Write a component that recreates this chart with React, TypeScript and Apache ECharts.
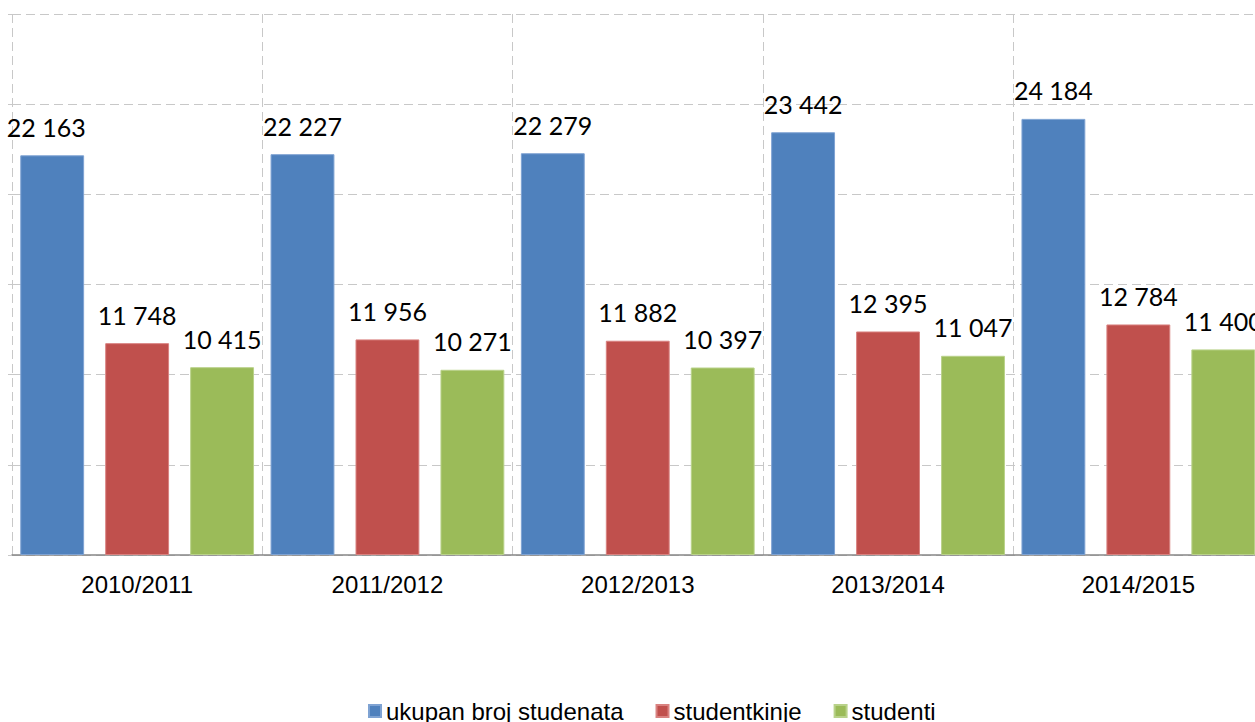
import React, { useEffect, useRef } from "react";
import * as echarts from "echarts";

const categories = ["2010/2011", "2011/2012", "2012/2013", "2013/2014", "2014/2015"];
const seriesNames = ["ukupan broj studenata", "studentkinje", "studenti"];
const ukupno = [22163, 22227, 22279, 23442, 24184];
const studentkinje = [11748, 11956, 11882, 12395, 12784];
const studenti = [10415, 10271, 10397, 11047, 11400];
const colors = ["#4F81BD", "#C0504D", "#9BBB59"];
const borders = ["#7FA3D3", "#D98280", "#B9D28A"];

const fmt = (v: number) => {
  const s = String(Math.round(v));
  return s.replace(/\B(?=(\d{3})+(?!\d))/g, " ");
};

export default function App() {
  const ref = useRef<HTMLDivElement>(null);
  useEffect(() => {
    if (!ref.current) return;
    const chart = echarts.init(ref.current, null, { renderer: "svg" });
    const data = [ukupno, studentkinje, studenti];
    chart.setOption({
      animation: false,
      backgroundColor: "#ffffff",
      grid: { left: 12, top: 14, right: 16.5, bottom: 167, containLabel: false },
      legend: {
        left: 363,
        top: 694,
        itemWidth: 12,
        itemHeight: 12,
        itemGap: 32,
        icon: "rect",
        textStyle: { fontFamily: "Liberation Sans", fontSize: 24, color: "#000" },
        data: seriesNames,
      },
      xAxis: {
        type: "category",
        data: categories,
        axisLine: { show: true, lineStyle: { color: "#868686", width: 1.5 } },
        axisTick: { show: false },
        axisLabel: {
          fontFamily: "Liberation Sans",
          fontSize: 24,
          color: "#000",
          margin: 17,
        },
        splitLine: {
          show: true,
          lineStyle: { color: "#c8c8c8", type: [9, 5], width: 1 },
        },
      },
      yAxis: {
        type: "value",
        min: 0,
        max: 30000,
        interval: 5000,
        axisLabel: { show: false },
        axisLine: { show: false },
        axisTick: { show: true, length: 4, lineStyle: { color: "#c8c8c8" } },
        splitLine: {
          show: true,
          lineStyle: { color: "#c8c8c8", type: [9, 5], width: 1 },
        },
      },
      series: seriesNames.map((name, i) => ({
        name,
        type: "bar",
        data: data[i].map((v, j) =>
          i === 0 && j === 0 ? { value: v, label: { offset: [-6, 0] } } : v
        ),
        barGap: "33%",
        barCategoryGap: "6.6%",
        itemStyle: { color: colors[i], borderColor: borders[i], borderWidth: 1 },
        label: {
          show: true,
          position: "top",
          distance: 16,
          fontFamily: "Lato",
          fontSize: 25,
          color: "#000",
          formatter: (p: any) => fmt(p.value),
        },
      })),
    });
    return () => chart.dispose();
  }, []);
  return (
    <div
      style={{
        position: "fixed",
        left: 0,
        top: 0,
        width: 1255,
        height: 722,
        overflow: "hidden",
        background: "#fff",
      }}
    >
      <div ref={ref} style={{ width: 1280, height: 722 }} />
    </div>
  );
}
